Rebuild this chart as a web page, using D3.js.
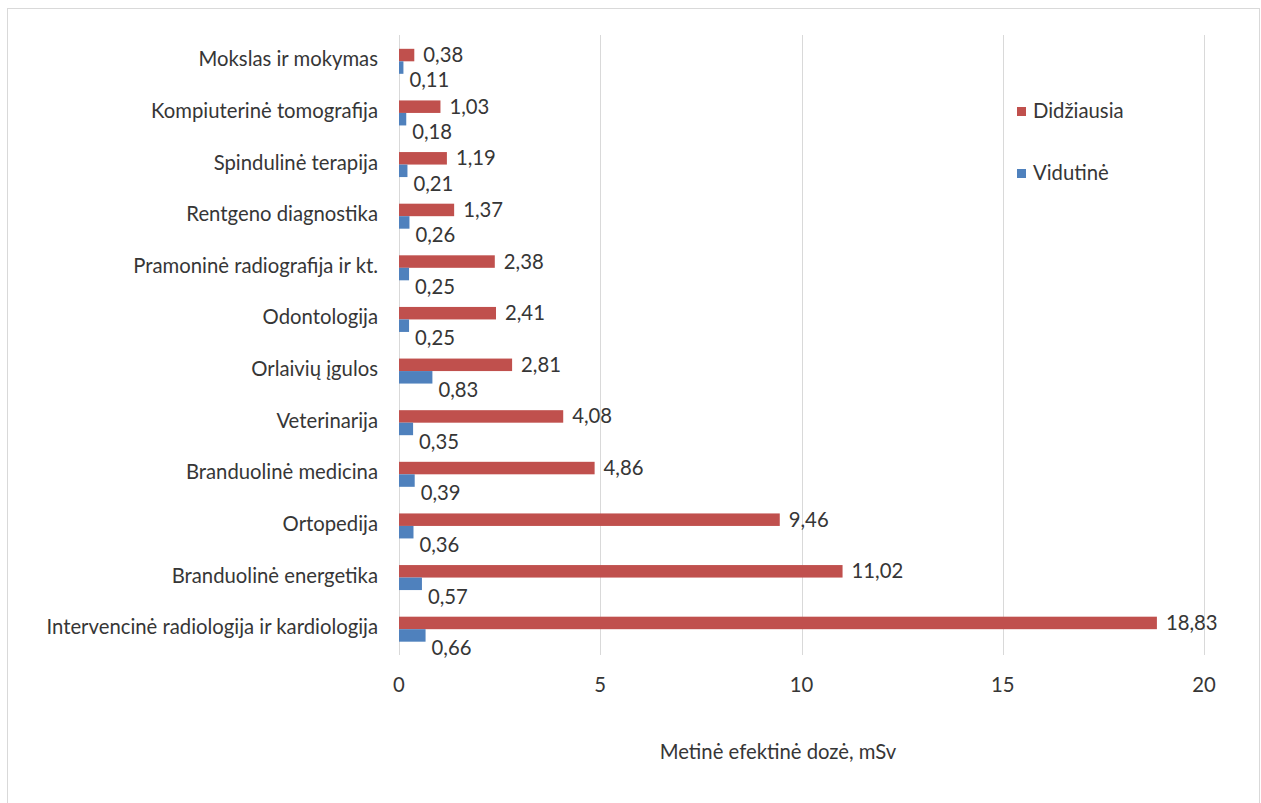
<!DOCTYPE html>
<html>
<head>
<meta charset="utf-8">
<script src="https://cdn.jsdelivr.net/npm/d3@7"></script>
<style>
  html, body { margin: 0; padding: 0; background: #fff; }
  svg { display: block; }
  text { font-family: Lato, "Open Sans", sans-serif; fill: #363636; }
</style>
</head>
<body>
<svg id="chart" width="1261" height="803"></svg>
<script>
// Categories, top to bottom
const categories = [
  "Mokslas ir mokymas",
  "Kompiuterinė tomografija",
  "Spindulinė terapija",
  "Rentgeno diagnostika",
  "Pramoninė radiografija ir kt.",
  "Odontologija",
  "Orlaivių įgulos",
  "Veterinarija",
  "Branduolinė medicina",
  "Ortopedija",
  "Branduolinė energetika",
  "Intervencinė radiologija ir kardiologija"
];
// Annual effective dose, mSv
const maxDose = [0.38, 1.03, 1.19, 1.37, 2.38, 2.41, 2.81, 4.08, 4.86, 9.46, 11.02, 18.83];
const meanDose = [0.11, 0.18, 0.21, 0.26, 0.25, 0.25, 0.83, 0.35, 0.39, 0.36, 0.57, 0.66];
const seriesNames = ["Didžiausia", "Vidutinė"];
const xTicks = [0, 5, 10, 15, 20];
const axisTitle = "Metinė efektinė dozė, mSv";

const colors = { max: "#C0504D", mean: "#4F81BD" };
const fmt = v => v.toFixed(2).replace(".", ",");
const fs = 20.3;

const svg = d3.select("#chart");

// chart frame
svg.append("rect")
  .attr("x", 7.5).attr("y", 8.5).attr("width", 1252).attr("height", 800)
  .attr("fill", "none").attr("stroke", "#d9d9d9");

const x = d3.scaleLinear().domain([0, 20]).range([399, 1204]);
const y = d3.scaleBand().domain(categories).range([35.5, 655]).padding(0);
const barH = 12.5;

// vertical gridlines
svg.append("g").selectAll("line").data(xTicks).join("line")
  .attr("x1", d => Math.round(x(d)) + 0.5).attr("x2", d => Math.round(x(d)) + 0.5)
  .attr("y1", 35).attr("y2", 655)
  .attr("stroke", "#d9d9d9").attr("stroke-width", 1);

// tick labels
svg.append("g").selectAll("text").data(xTicks).join("text")
  .attr("x", d => x(d)).attr("y", 692)
  .attr("text-anchor", "middle").attr("font-size", fs)
  .text(d => d);

// category labels
svg.append("g").selectAll("text").data(categories).join("text")
  .attr("x", 378).attr("y", d => y(d) + y.bandwidth() / 2 + 5)
  .attr("text-anchor", "end").attr("font-size", fs)
  .text(d => d);

const rows = categories.map((c, i) => ({ c, max: maxDose[i], mean: meanDose[i] }));
const center = d => y(d.c) + y.bandwidth() / 2;

// bars: largest dose
svg.append("g").selectAll("rect").data(rows).join("rect")
  .attr("x", x(0)).attr("y", d => center(d) - barH)
  .attr("width", d => x(d.max) - x(0)).attr("height", barH)
  .attr("fill", colors.max);

// bars: mean dose
svg.append("g").selectAll("rect").data(rows).join("rect")
  .attr("x", x(0)).attr("y", d => center(d))
  .attr("width", d => x(d.mean) - x(0)).attr("height", barH)
  .attr("fill", colors.mean);

// value labels
svg.append("g").selectAll("text").data(rows).join("text")
  .attr("x", d => x(d.max) + 9).attr("y", d => center(d) - barH / 2 + 7)
  .attr("font-size", fs).text(d => fmt(d.max));

svg.append("g").selectAll("text").data(rows).join("text")
  .attr("x", d => x(d.mean) + 6).attr("y", d => center(d) + 26)
  .attr("font-size", fs).text(d => fmt(d.mean));

// axis title
svg.append("text")
  .attr("x", 778).attr("y", 759).attr("text-anchor", "middle")
  .attr("font-size", fs).text(axisTitle);

// legend
const legend = svg.append("g");
[colors.max, colors.mean].forEach((col, i) => {
  const ly = 112 + i * 62;
  legend.append("rect").attr("x", 1017).attr("y", ly - 5).attr("width", 9).attr("height", 9).attr("fill", col);
  legend.append("text").attr("x", 1033).attr("y", ly + 6).attr("font-size", fs).text(seriesNames[i]);
});
</script>
</body>
</html>
